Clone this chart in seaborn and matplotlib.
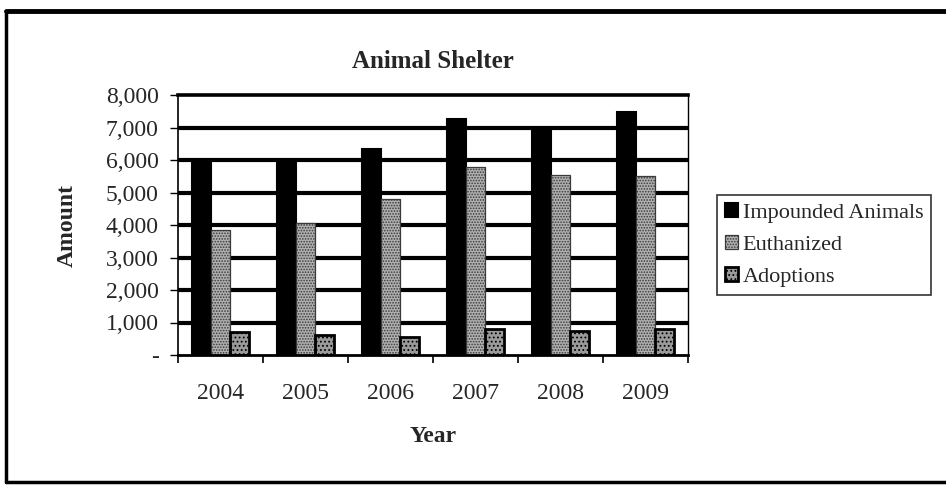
import matplotlib
matplotlib.use("Agg")
import matplotlib.pyplot as plt
import seaborn as sns
import pandas as pd
from matplotlib.lines import Line2D
from matplotlib.ticker import FuncFormatter

years = ["2004", "2005", "2006", "2007", "2008", "2009"]
impounded = [5950, 5950, 6350, 7250, 6950, 7480]
euthanized = [3850, 4050, 4800, 5800, 5550, 5500]
adoptions = [720, 630, 550, 790, 750, 790]
series_names = ["Impounded Animals", "Euthanized", "Adoptions"]
y_ticks = [0, 1000, 2000, 3000, 4000, 5000, 6000, 7000, 8000]

df = pd.DataFrame({
    "Year": years * 3,
    "Series": [series_names[0]] * 6 + [series_names[1]] * 6 + [series_names[2]] * 6,
    "Amount": impounded + euthanized + adoptions,
})

sns.set_theme(style="white")
plt.rcParams["font.family"] = ["Liberation Serif", "DejaVu Serif"]
plt.rcParams["hatch.linewidth"] = 0.8

fig = plt.figure(figsize=(9.46, 4.86), dpi=100)
ax = fig.add_axes([178 / 946, 1 - 355 / 486, 510 / 946, 260 / 486])

palette = {"Impounded Animals": "#000000", "Euthanized": "#b0b0b0", "Adoptions": "#9a9a9a"}
sns.barplot(data=df, x="Year", y="Amount", hue="Series", order=years,
            hue_order=series_names, palette=palette, width=0.68, gap=0,
            saturation=1, ax=ax, legend=False, zorder=3)

styles = [
    dict(edgecolor="#000000", hatch=None, lw=1.5),
    dict(edgecolor="#3a3a3a", hatch="......", lw=0.9),
    dict(edgecolor="#000000", hatch="....", lw=2.0),
]
for cont, st in zip(ax.containers, styles):
    for p in cont:
        p.set_edgecolor(st["edgecolor"])
        p.set_linewidth(st["lw"])
        if st["hatch"]:
            p.set_hatch(st["hatch"])

ax.set_ylim(0, 8000)
ax.set_xlim(-0.5, 5.5)
ax.set_yticks(y_ticks)
ax.yaxis.set_major_formatter(FuncFormatter(lambda v, _: "-" if v == 0 else f"{int(v):,}"))
for y in y_ticks[1:-1]:
    ax.axhline(y, color="black", lw=3.0, zorder=1)

# category tick marks sit between the year groups
ax.set_xticks(range(len(years)))
ax.set_xticklabels(years)
ax.tick_params(axis="x", length=0, pad=20, labelsize=17)
ax.set_xticks([i - 0.5 for i in range(len(years) + 1)], minor=True)
ax.tick_params(axis="x", which="minor", length=6, width=1.2, color="black", direction="out", bottom=True)
ax.tick_params(axis="y", length=6, width=1.0, color="black", direction="out", left=True, labelsize=17, pad=8)

for side, lw in [("left", 1.2), ("bottom", 2.0), ("top", 2.6), ("right", 1.0)]:
    ax.spines[side].set_visible(True)
    ax.spines[side].set_color("black")
    ax.spines[side].set_linewidth(lw)
    ax.spines[side].set_zorder(4)

ax.set_xlabel("Year", fontsize=17, fontweight="bold", labelpad=16)
ax.set_ylabel("Amount", fontsize=17, fontweight="bold", labelpad=20)
fig.text(433 / 946, 1 - 62 / 486, "Animal Shelter", ha="center", va="center",
         fontsize=18, fontweight="bold")

handles = [cont[0] for cont in ax.containers]
leg = fig.legend(handles, series_names, loc="upper left",
                 bbox_to_anchor=(717 / 946, 1 - 195 / 486), frameon=True,
                 fancybox=False, edgecolor="black", fontsize=16,
                 handlelength=0.6, handleheight=0.6, handletextpad=0.2,
                 labelspacing=0.55, borderpad=0.35, borderaxespad=0)
leg.get_frame().set_linewidth(1.2)

# page border
fig.add_artist(Line2D([6 / 946, 6 / 946], [1 - 482 / 486, 1 - 11 / 486], color="black", lw=2.5,
                      transform=fig.transFigure))
fig.add_artist(Line2D([6 / 946, 1.0], [1 - 11 / 486, 1 - 11 / 486], color="black", lw=3.5,
                      transform=fig.transFigure))
fig.add_artist(Line2D([6 / 946, 1.0], [1 - 482 / 486, 1 - 482 / 486], color="black", lw=2.5,
                      transform=fig.transFigure))

fig.savefig("out.png", dpi=100, facecolor="white")
